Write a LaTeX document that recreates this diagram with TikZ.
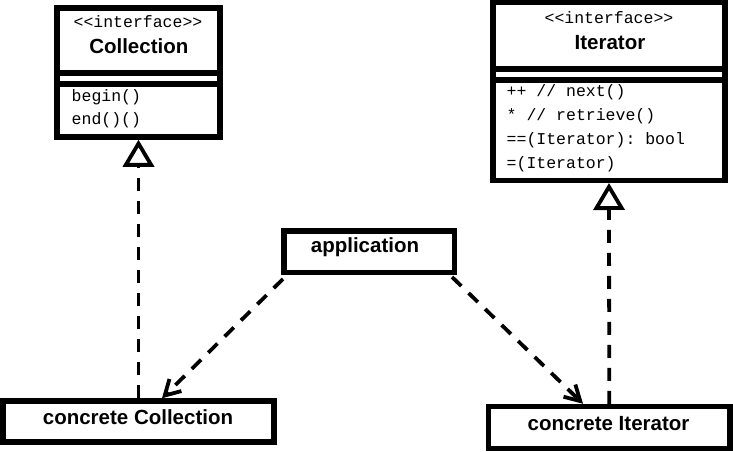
\documentclass[tikz,border=0pt]{standalone}
\usepackage{fontspec}
\setmainfont{Liberation Sans}
\setmonofont{Liberation Mono}
\usetikzlibrary{arrows.meta}
\begin{document}
\begin{tikzpicture}[x=1pt,y=-1pt,
  box/.style={draw, line width=5.5pt, inner sep=0pt},
  sepline/.style={line width=5.5pt},
  title/.style={anchor=base, inner sep=0pt, font=\fontsize{20.5}{24}\selectfont\bfseries},
  stereo/.style={anchor=base, inner sep=0pt, font=\fontsize{16.5}{20}\selectfont\ttfamily},
  method/.style={anchor=base west, inner sep=0pt, font=\fontsize{16.5}{20}\selectfont\ttfamily},
  realize/.style={line width=3.8pt, dash pattern=on 13pt off 10pt,
    -{Triangle[open, fill=white, length=27pt, width=31pt]}},
  uses/.style={line width=3.8pt, dash pattern=on 13pt off 10pt,
    -{Straight Barb[length=15pt, width=17pt]}}]
\useasboundingbox (0,0) rectangle (733,452);
\fill[white] (0,0) rectangle (733,452);

% Collection interface
\node[box, minimum width=163pt, minimum height=129pt] (coll) at (138.5,72.5) {};
\draw[sepline] (coll.west |- 0,73) -- (coll.east |- 0,73);
\draw[sepline] (coll.west |- 0,84) -- (coll.east |- 0,84);
\node[stereo] (collst) at (138,27.5) {<{}<interface>{}>};
\node[title] (colltt) at (138.8,53.5) {Collection};
\node[method] (collm1) at (71.5,101.5) {begin()};
\node[method] (collm2) at (71.5,124) {end()()};

% Iterator interface
\node[box, minimum width=232pt, minimum height=177.5pt] (iter) at (609,91.5) {};
\draw[sepline] (iter.west |- 0,69) -- (iter.east |- 0,69);
\draw[sepline] (iter.west |- 0,80) -- (iter.east |- 0,80);
\node[stereo] (iterst) at (609,24) {<{}<interface>{}>};
\node[title] (itertt) at (610,50) {Iterator};
\node[method] (iterm1) at (506.5,96.7) {++ // next()};
\node[method] (iterm2) at (506.5,120.5) {* // retrieve()};
\node[method] (iterm3) at (506.5,144.3) {==(Iterator): bool};
\node[method] (iterm4) at (506.5,168.2) {=(Iterator)};

% application
\node[box, minimum width=170.5pt, minimum height=41.5pt] (app) at (369.25,251.75) {};
\node[title] (apptt) at (365,252.5) {application};

% concrete classes
\node[box, minimum width=271pt, minimum height=41pt] (cc) at (138.5,421.5) {};
\node[title] (cctt) at (138,424.3) {concrete Collection};
\node[box, minimum width=241.5pt, minimum height=42pt] (ci) at (609.25,427.5) {};
\node[title] (citt) at (608.5,430.7) {concrete Iterator};

% realizations
\draw[realize] (cc.north) -- (coll.south);
\draw[realize] (ci.north) -- (iter.south);

% uses
\coordinate (a1) at (283,279);
\coordinate (t1) at (162,398);
\coordinate (a2) at (452,277);
\coordinate (t2) at (583,403);
\draw[uses] (a1) -- (t1 |- cc.north);
\draw[uses] (a2) -- (t2 |- ci.north);
\end{tikzpicture}
\end{document}
